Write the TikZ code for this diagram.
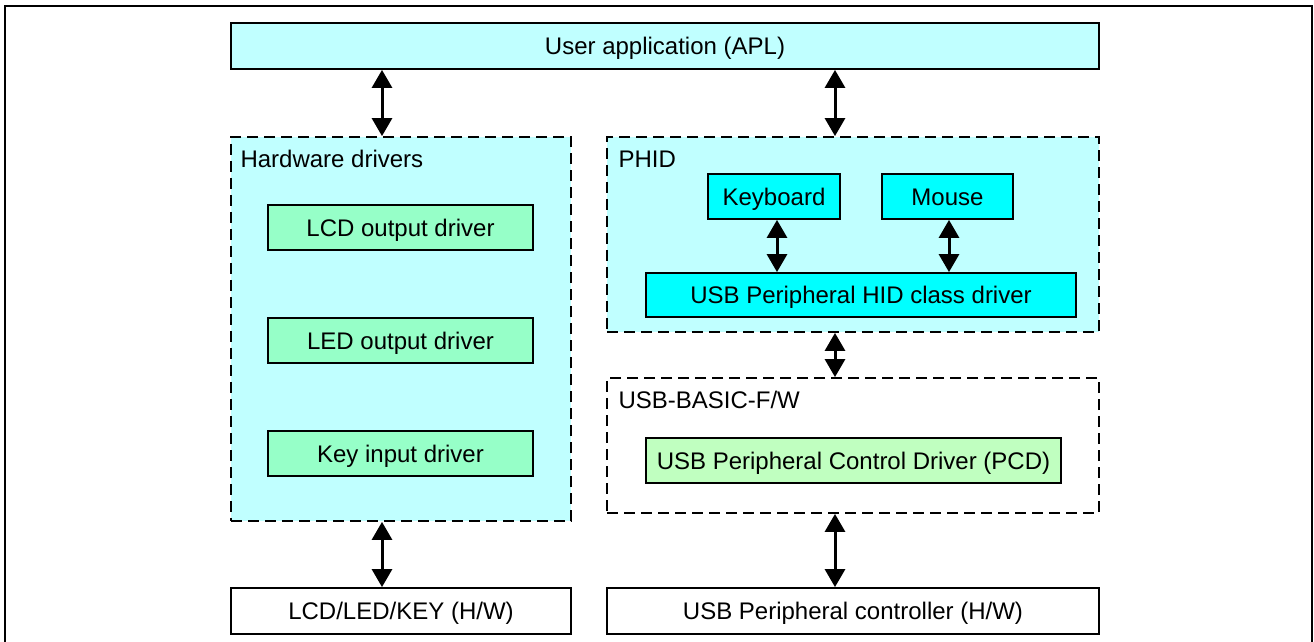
\documentclass[tikz,border=0pt]{standalone}
\usepackage{fontspec}
\setmainfont{Liberation Sans}
\usetikzlibrary{arrows.meta}

\definecolor{paleCyan}{RGB}{192,255,255}
\definecolor{fullCyan}{RGB}{0,255,255}
\definecolor{mint}{RGB}{150,255,200}
\definecolor{paleGreen}{RGB}{192,255,192}

\tikzset{
  box/.style={draw=black, line width=0.9pt, inner sep=0pt, align=center,
              text height=8.6pt, text depth=0pt,
              font=\fontsize{12}{14}\selectfont},
  group/.style={draw=black, line width=0.9pt, dash pattern=on 5.5pt off 3pt, inner sep=0pt},
  grouplabel/.style={anchor=base west, inner sep=0pt, font=\fontsize{12}{14}\selectfont},
  arr/.style={line width=1.5pt, {Triangle[width=10pt,length=9pt]}-{Triangle[width=10pt,length=9pt]}},
}

\begin{document}
\begin{tikzpicture}[x=0.5pt, y=-0.5pt]
  \useasboundingbox (0,0) rectangle (1314,642);
  \clip (0,0) rectangle (1314,642);

  % outer frame (its bottom edge lies below the page)
  \draw[line width=1pt] (5,6) rectangle (1312,680);

  % top application layer
  \node[box, fill=paleCyan, minimum width=434pt, minimum height=23pt] (app) at (665,46) {User application (APL)};

  % hardware driver group
  \node[group, fill=paleCyan, minimum width=170pt, minimum height=192pt] (hw) at (401,329) {};
  \node[grouplabel] (hwlbl) at ([xshift=5pt, yshift=-15.5pt]hw.north west) {Hardware drivers};
  \node[box, fill=mint, minimum width=132.5pt, minimum height=22.5pt] (lcd) at (400.5,227.5) {LCD output driver};
  \node[box, fill=mint, minimum width=132.5pt, minimum height=22.5pt] (led) at (400.5,340.5) {LED output driver};
  \node[box, fill=mint, minimum width=132.5pt, minimum height=22.5pt] (key) at (400.5,453.5) {Key input driver};

  % PHID group
  \node[group, fill=paleCyan, minimum width=246pt, minimum height=97.5pt] (phid) at (853,234.5) {};
  \node[grouplabel] (phidlbl) at ([xshift=6pt, yshift=-15.5pt]phid.north west) {PHID};
  \node[box, fill=fullCyan, minimum width=66pt, minimum height=22.5pt] (kbd) at (774,196.5) {Keyboard};
  \node[box, fill=fullCyan, minimum width=65.5pt, minimum height=22.5pt] (mouse) at (947.5,196.5) {Mouse};
  \node[box, fill=fullCyan, minimum width=215pt, minimum height=22pt] (hid) at (861,295) {USB Peripheral HID class driver};

  % basic firmware group
  \node[group, minimum width=246pt, minimum height=67.5pt] (basic) at (853,445.5) {};
  \node[grouplabel] (basiclbl) at ([xshift=6pt, yshift=-15.5pt]basic.north west) {USB-BASIC-F/W};
  \node[box, fill=paleGreen, minimum width=207.5pt, minimum height=22.5pt] (pcd) at (853.5,460.5) {USB Peripheral Control Driver (PCD)};

  % hardware layer
  \node[box, minimum width=170pt, minimum height=23pt] (lhw) at (401,611) {LCD/LED/KEY (H/W)};
  \node[box, minimum width=246pt, minimum height=23pt] (usbhw) at (853,611) {USB Peripheral controller (H/W)};

  % columns of the vertical connectors
  \coordinate (la) at (382,0);
  \coordinate (ra) at (835,0);
  \coordinate (ka) at (777,0);
  \coordinate (ma) at (949,0);

  \draw[arr] (app.south -| la) -- (hw.north -| la);
  \draw[arr] (hw.south -| la) -- (lhw.north -| la);
  \draw[arr] (app.south -| ra) -- (phid.north -| ra);
  \draw[arr] (phid.south -| ra) -- (basic.north -| ra);
  \draw[arr] (basic.south -| ra) -- (usbhw.north -| ra);
  \draw[arr] (kbd.south -| ka) -- (hid.north -| ka);
  \draw[arr] (mouse.south -| ma) -- (hid.north -| ma);
\end{tikzpicture}
\end{document}
